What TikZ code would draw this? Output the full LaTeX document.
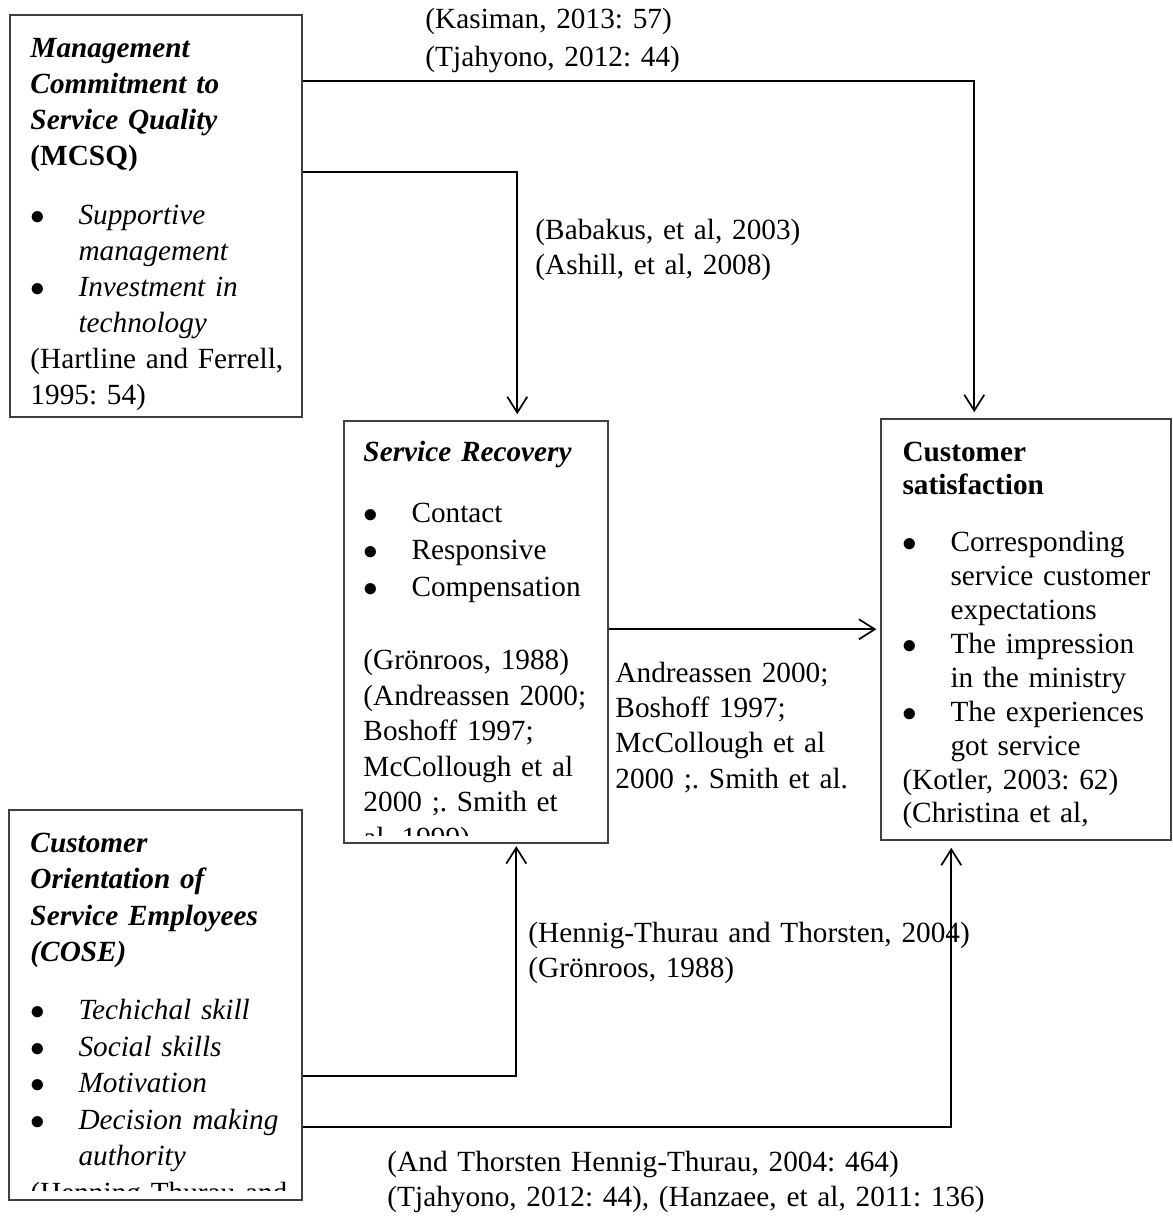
\documentclass[tikz,border=0pt]{standalone}
\usepackage{fontspec}
\setmainfont{Liberation Serif}
\usetikzlibrary{arrows.meta,calc,fit}
\frenchspacing

\newcommand\bul{\makebox[19.7pt][l]{$\bullet$}}
\newcommand\ind{\hspace*{19.7pt}}
\newcommand\bi[1]{\textbf{\textit{#1}}}

\tikzset{
  box/.style={draw=black!75, line width=0.6pt, inner sep=0pt},
  txt/.style={anchor=base west, inner sep=0pt, text width=#1, align=left,
    font=\fontsize{12}{14.55}\selectfont},
  txt/.default=130pt,
  lbl/.style={txt=250pt},
  conn/.style={-{Straight Barb[length=6.5pt,width=8.2pt]}, line width=0.7pt, shorten >=2.5pt},
}

\begin{document}
\begin{tikzpicture}[x=0.41pt, y=-0.41pt]

  \useasboundingbox (0,0) rectangle (1172,1223);

  % boxes
  \node[box, fit={(10,15) (302,417)}] (mcsq) {};
  \node[box, fit={(344,421) (608,843)}] (sr) {};
  \node[box, fit={(881,419) (1171,840)}] (cs) {};
  \node[box, fit={(9,810) (302,1200)}] (cose) {};

  % box texts
  \node[txt, font=\fontsize{12}{14.75}\selectfont] (mcsqtxt) at (30,58) {\bi{Management}\\
    \bi{Commitment to}\\ \bi{Service Quality}\\
    \textbf{(MCSQ)}\\[9.2pt]
    \bul\textit{Supportive}\\ \ind\textit{management}\\
    \bul\textit{Investment in}\\ \ind\textit{technology}\\
    (Hartline and Ferrell,\\ 1995: 54)};

  \begin{scope}
    \clip (sr.north west) rectangle ([yshift=3.3pt]sr.south east);
    \node[txt] (srtxt) at (363,461) {\bi{Service Recovery}\\[10.6pt]
      \bul Contact\\[0.6pt] \bul Responsive\\[0.6pt] \bul Compensation\\[15.6pt]
      (Grönroos, 1988)\\ (Andreassen 2000;\\ Boshoff 1997;\\ McCollough et al\\
      2000 ;. Smith et\\ al, 1999)};
  \end{scope}

  \node[txt, font=\fontsize{12}{13.9}\selectfont] (cstxt) at (902,461) {\textbf{Customer}\\
    \textbf{satisfaction}\\[9.4pt]
    \bul Corresponding\\ \ind service customer\\ \ind expectations\\
    \bul The impression\\ \ind in the ministry\\
    \bul The experiences\\ \ind got service\\
    (Kotler, 2003: 62)\\ (Christina et al,};

  \begin{scope}
    \clip (cose.north west) rectangle ([yshift=4.1pt]cose.south east);
    \node[txt, font=\fontsize{12}{14.97}\selectfont] (cosetxt) at (30,852) {\bi{Customer}\\
      \bi{Orientation of}\\ \bi{Service Employees}\\ \bi{(COSE)}\\[8.8pt]
      \bul\textit{Techichal skill}\\ \bul\textit{Social skills}\\ \bul\textit{Motivation}\\
      \bul\textit{Decision making}\\ \ind\textit{authority}\\
      (Henning Thurau and};
  \end{scope}

  % labels
  \node[lbl, font=\fontsize{12}{15.2}\selectfont] (kasiman) at (425,29) {(Kasiman, 2013: 57)\\ (Tjahyono, 2012: 44)};
  \node[lbl] (babakus) at (535,239) {(Babakus, et al, 2003)\\ (Ashill, et al, 2008)};
  \node[lbl] (andreassen) at (615,682) {Andreassen 2000;\\ Boshoff 1997;\\ McCollough et al\\ 2000 ;. Smith et al.};
  \node[lbl] (hennig) at (528,942) {(Hennig-Thurau and Thorsten, 2004)\\ (Grönroos, 1988)};
  \node[lbl] (thorsten) at (387,1171) {(And Thorsten Hennig-Thurau, 2004: 464)\\
    (Tjahyono, 2012: 44), (Hanzaee, et al, 2011: 136)};

  % connectors
  \draw[conn] ($(mcsq.north east)+(0,67)$) -| ($(cs.north west)+(94,0)$);
  \draw[conn] ($(mcsq.north east)+(0,158)$) -| ($(sr.north west)+(174,0)$);
  \draw[conn, shorten >=1.6pt] ($(sr.north east)+(0,209)$) -- ($(cs.north west)+(0,211)$);
  \draw[conn, shorten >=1pt] ($(cose.north east)+(0,267)$) -| ($(sr.south west)+(173,0)$);
  \draw[conn, shorten >=2.9pt] ($(cose.north east)+(0,318)$) -| ($(cs.south west)+(71,0)$);

\end{tikzpicture}
\end{document}
